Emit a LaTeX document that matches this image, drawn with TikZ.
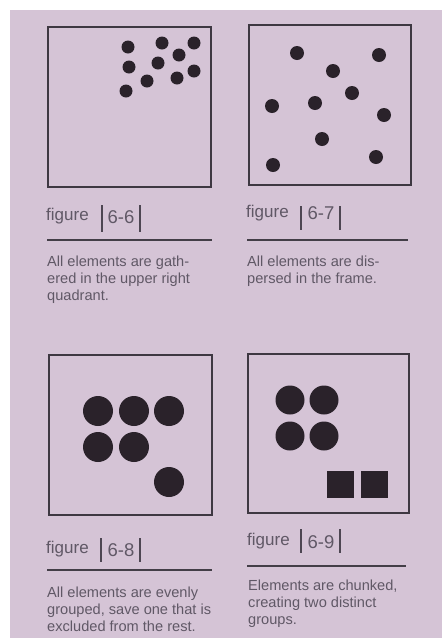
\documentclass[tikz,border=0pt]{standalone}
\usepackage{fontspec}
\setmainfont{Liberation Sans}
\definecolor{bgc}{RGB}{213,196,214}
\definecolor{framec}{RGB}{62,56,66}
\definecolor{dotc}{RGB}{42,34,42}
\definecolor{txtc}{RGB}{96,88,102}
\begin{document}
\begin{tikzpicture}[x=1pt,y=-1pt,
  frame/.style={draw=framec,line width=1.8pt},
  sdot/.style={fill=dotc},
  figlbl/.style={anchor=base west,inner sep=0pt,text=txtc,font=\fontsize{17}{20}\selectfont},
  fignum/.style={anchor=base,inner sep=0pt,text=txtc,font=\fontsize{18.5}{21}\selectfont},
  bar/.style={draw=txtc!80!black,line width=2.4pt},
  rule/.style={draw=txtc!70!black,line width=1.4pt},
  desc/.style={anchor=base west,inner sep=0pt,text=txtc,font=\fontsize{14.6}{17}\selectfont}]
\useasboundingbox (0,0) rectangle (442,638);
\fill[white] (0,0) rectangle (442,638);
\fill[bgc] (10,10) rectangle (442,638);

% ---- figure 6-6
\draw[frame] (48,27) rectangle (211,187);
\foreach \p in {(128,47),(162,43),(194,43),(179,55),(129,67),(158,63),(194,71),(177,78),(147,81),(126,91)}
  \fill[sdot] \p circle (6.5);
\node[figlbl] (f1) at (46,220) {figure};
\draw[bar] (102,205) -- (102,232);
\draw[bar] (140,205) -- (140,232);
\node[fignum] (n1) at (121,223) {6-6};
\draw[rule] (47,240) -- (212,240);
\node[desc] (d1a) at (47,266) {All elements are gath-};
\node[desc] (d1b) at (47,283) {ered in the upper right};
\node[desc] (d1c) at (47,300) {quadrant.};

% ---- figure 6-7
\draw[frame] (249,25) rectangle (411,185);
\foreach \p in {(297,53),(379,55),(333,71),(352,93),(272,106),(315,103),(384,115),(322,139),(376,157),(273,165)}
  \fill[sdot] \p circle (7);
\node[figlbl] (f2) at (246,217) {figure};
\draw[bar] (301,206) -- (301,230);
\draw[bar] (340,206) -- (340,230);
\node[fignum] (n2) at (321,219) {6-7};
\draw[rule] (247,240) -- (408,240);
\node[desc] (d2a) at (247,266) {All elements are dis-};
\node[desc] (d2b) at (247,283) {persed in the frame.};

% ---- figure 6-8
\draw[frame] (49,355) rectangle (212,515);
\foreach \p in {(98,411),(134,411),(169,411),(98,447),(134,447),(169,482)}
  \fill[sdot] \p circle (15);
\node[figlbl] (f3) at (46,553) {figure};
\draw[bar] (101,538) -- (101,562);
\draw[bar] (140,538) -- (140,562);
\node[fignum] (n3) at (121,556) {6-8};
\draw[rule] (47,570) -- (212,570);
\node[desc] (d3a) at (47,597) {All elements are evenly};
\node[desc] (d3b) at (47,614) {grouped, save one that is};
\node[desc] (d3c) at (47,631) {excluded from the rest.};

% ---- figure 6-9
\draw[frame] (248,354) rectangle (409,513);
\foreach \p in {(290,400),(324,400),(290,436),(324,436)}
  \fill[sdot] \p circle (14.5);
\fill[dotc] (327,471) rectangle (354,498);
\fill[dotc] (361,471) rectangle (388,498);
\node[figlbl] (f4) at (247,545) {figure};
\draw[bar] (301,529) -- (301,553);
\draw[bar] (340,529) -- (340,553);
\node[fignum] (n4) at (321,548) {6-9};
\draw[rule] (247,566) -- (406,566);
\node[desc] (d4a) at (248,590) {Elements are chunked,};
\node[desc] (d4b) at (248,607) {creating two distinct};
\node[desc] (d4c) at (248,624) {groups.};
\end{tikzpicture}
\end{document}
